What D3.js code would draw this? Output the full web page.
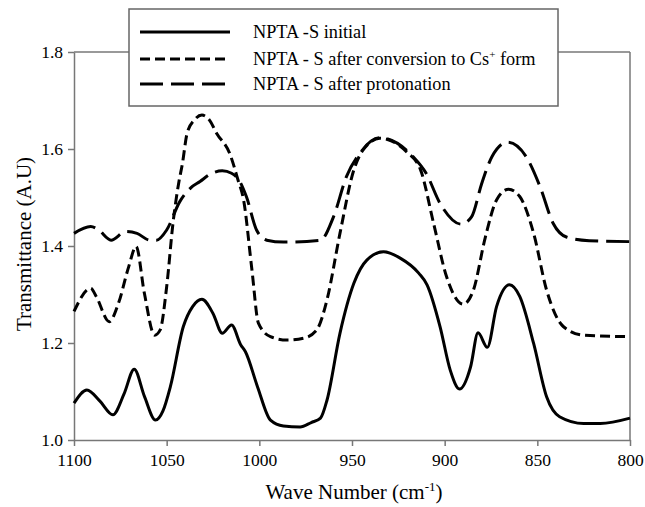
<!DOCTYPE html>
<html>
<head>
<meta charset="utf-8">
<style>
    body { margin: 0; background: white; font-family: 'Liberation Serif'; }
</style>
</head>
<body>
<svg id="container" width="645" height="507"></svg>
<script src="https://cdn.jsdelivr.net/npm/d3@7"></script>
<script>
    // wave numbers (cm-1) and transmittance
    let wnInitial = [1100, 1093, 1086, 1079, 1073, 1067.5, 1062, 1056, 1052, 1048, 1041, 1036, 1031, 1025, 1020, 1015, 1010, 1007.5, 1001, 994, 987, 978, 972, 967, 963.5, 956.5, 949, 942, 933, 924, 914, 909.5, 902.5, 897, 892, 886, 882, 877, 872, 865, 859.5, 852, 845, 838, 825, 816, 800]
    let trInitial = [1.076, 1.103, 1.080, 1.052, 1.095, 1.146, 1.090, 1.041, 1.060, 1.110, 1.234, 1.275, 1.290, 1.261, 1.220, 1.237, 1.196, 1.182, 1.110, 1.041, 1.029, 1.027, 1.036, 1.045, 1.082, 1.220, 1.323, 1.371, 1.388, 1.375, 1.344, 1.320, 1.234, 1.144, 1.105, 1.151, 1.221, 1.191, 1.275, 1.320, 1.296, 1.199, 1.089, 1.048, 1.034, 1.034, 1.045]

    let wnCs = [1100, 1091, 1088, 1081, 1076, 1070.5, 1066.5, 1062, 1056.5, 1053.5, 1050, 1046.5, 1043.5, 1041.5, 1039, 1035, 1031, 1027, 1023, 1016, 1011.5, 1008.5, 1004, 1000.5, 994, 985, 976, 969, 963.5, 956.5, 949, 944, 935, 920.5, 913, 906, 899, 890, 884.5, 878, 872, 865.5, 859.5, 852, 845, 836, 825, 800]
    let trCs = [1.265, 1.313, 1.296, 1.244, 1.282, 1.357, 1.399, 1.302, 1.216, 1.227, 1.316, 1.450, 1.530, 1.570, 1.632, 1.660, 1.670, 1.660, 1.632, 1.591, 1.536, 1.495, 1.351, 1.241, 1.213, 1.206, 1.210, 1.227, 1.289, 1.426, 1.557, 1.598, 1.622, 1.594, 1.557, 1.447, 1.337, 1.280, 1.309, 1.419, 1.495, 1.517, 1.502, 1.426, 1.309, 1.234, 1.216, 1.213]

    let wnProt = [1100, 1091, 1087, 1080, 1072, 1066, 1059, 1055.5, 1050, 1043, 1037, 1032, 1026.5, 1020, 1015, 1011, 1007, 1001.5, 996, 987, 967, 960, 953, 946, 935, 917, 910, 902.5, 891, 885.5, 880, 874.5, 866, 856, 848.5, 841.5, 834, 822, 800]
    let trProt = [1.426, 1.440, 1.434, 1.412, 1.430, 1.426, 1.412, 1.412, 1.433, 1.491, 1.520, 1.533, 1.548, 1.555, 1.550, 1.536, 1.502, 1.433, 1.412, 1.408, 1.412, 1.460, 1.543, 1.590, 1.623, 1.584, 1.550, 1.488, 1.445, 1.460, 1.529, 1.584, 1.614, 1.584, 1.522, 1.447, 1.418, 1.411, 1.409]

    let xTicks = [1100, 1050, 1000, 950, 900, 850, 800]
    let yTicks = [1.0, 1.2, 1.4, 1.6, 1.8]
    let seriesNames = ["NPTA -S initial", "NPTA - S after conversion to Cs", "NPTA - S after protonation"]

    let serif = "'Liberation Serif'"
    let svg = d3.select("#container")
    let plotL = 74, plotR = 630, plotT = 52, plotB = 440

    let x = d3.scaleLinear().domain([1100, 800]).range([plotL, plotR])
    let y = d3.scaleLinear().domain([1.0, 1.8]).range([plotB, plotT])

    // frame: top and right borders
    svg.append("line").attr("x1", plotL).attr("x2", plotR).attr("y1", plotT).attr("y2", plotT)
        .attr("stroke", "#777").attr("stroke-width", 1.5)
    svg.append("line").attr("x1", plotR).attr("x2", plotR).attr("y1", plotT).attr("y2", plotB)
        .attr("stroke", "#777").attr("stroke-width", 1.5)

    let xAxis = svg.append("g")
        .attr("transform", "translate(0," + plotB + ")")
        .call(d3.axisBottom(x).tickValues(xTicks).tickSize(6).tickSizeOuter(0).tickPadding(8).tickFormat(d3.format("d")))

    let yAxis = svg.append("g")
        .attr("transform", "translate(" + plotL + ",0)")
        .call(d3.axisLeft(y).tickValues(yTicks).tickSize(6).tickSizeOuter(0).tickPadding(5).tickFormat(d3.format(".1f")))

    for (let ax of [xAxis, yAxis]) {
        ax.attr("font-family", null).attr("font-size", null)
        ax.selectAll("path, line").attr("stroke", "#777").attr("stroke-width", 1.5)
        ax.selectAll("text").attr("fill", "black").style("font-family", serif).style("font-size", "17.5px")
    }

    let line = d3.line()
        .x(d => x(d[0]))
        .y(d => y(d[1]))
        .curve(d3.curveMonotoneX)

    let series = [
        { wn: wnInitial, tr: trInitial, dash: null },
        { wn: wnCs, tr: trCs, dash: "10,5" },
        { wn: wnProt, tr: trProt, dash: "23,8" }
    ]

    svg.append("g")
        .selectAll("path")
        .data(series)
        .enter()
        .append("path")
        .attr("d", s => line(d3.zip(s.wn, s.tr)))
        .attr("fill", "none")
        .attr("stroke", "black")
        .attr("stroke-width", 3)
        .attr("stroke-dasharray", s => s.dash)

    // axis titles
    let xt = svg.append("text")
        .attr("x", 354).attr("y", 499)
        .attr("text-anchor", "middle")
        .style("font-family", serif).style("font-size", "21px")
        .text("Wave Number (cm")
    xt.append("tspan").attr("dy", -8).style("font-size", "13px").text("-1")
    xt.append("tspan").attr("dy", 8).text(")")

    svg.append("text")
        .attr("transform", "translate(31,244) rotate(-90)")
        .attr("text-anchor", "middle")
        .style("font-family", serif).style("font-size", "21px")
        .text("Transmittance (A.U)")

    // legend
    let legend = svg.append("g")
    legend.append("rect")
        .attr("x", 129).attr("y", 9).attr("width", 429).attr("height", 97)
        .attr("fill", "white").attr("stroke", "#666").attr("stroke-width", 1.5)

    let rows = legend.selectAll("g.row")
        .data(series)
        .enter()
        .append("g")
        .attr("class", "row")
        .attr("transform", (d, i) => "translate(0," + [32, 59, 84][i] + ")")

    rows.append("line")
        .attr("x1", 140).attr("x2", 230)
        .attr("stroke", "black").attr("stroke-width", 3)
        .attr("stroke-dasharray", d => d.dash)

    rows.append("text")
        .attr("x", 253).attr("y", 6)
        .style("font-family", serif).style("font-size", "18.3px")
        .each(function (d, i) {
            let t = d3.select(this)
            t.append("tspan").text(seriesNames[i])
            if (i === 1) {
                t.append("tspan").attr("dy", -7).style("font-size", "11px").text("+")
                t.append("tspan").attr("dy", 7).text(" form")
            }
        })
</script>
</body>
</html>
